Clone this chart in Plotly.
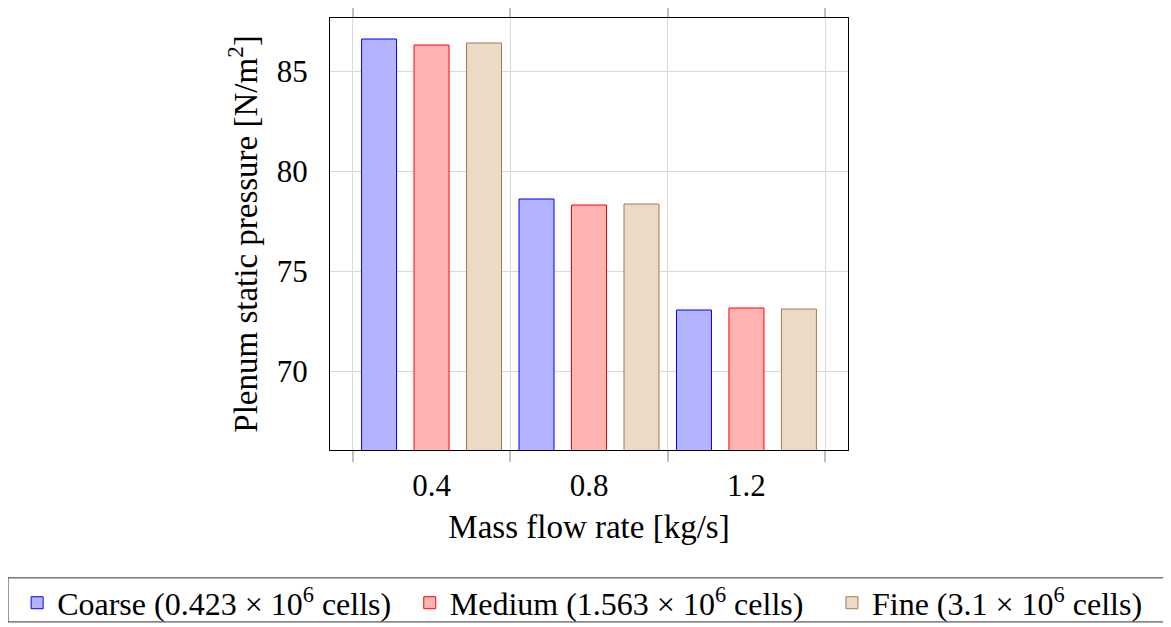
import plotly.graph_objects as go

mass_flow = [0.4, 0.8, 1.2]
coarse = [86.6, 78.6, 73.05]
medium = [86.3, 78.3, 73.15]
fine = [86.4, 78.35, 73.1]
series_names = [
    "Coarse (0.423 × 10<sup>6</sup> cells)",
    "Medium (1.563 × 10<sup>6</sup> cells)",
    "Fine (3.1 × 10<sup>6</sup> cells)",
]
x_tick_labels = ["0.4", "0.8", "1.2"]
y_ticks = [70, 75, 80, 85]
x_minor = [0.2, 0.6, 1.0, 1.4]

fills = ["#b3b3ff", "#ffb3b3", "#ecd9c6"]
edges = ["#0000ff", "#ff0000", "#a87a50"]
legend_ids = ["legend", "legend2", "legend3"]
legend_x = [-0.604, 0.154, 0.969]

FONT = "Liberation Serif"
TICK_FS = 31
TITLE_FS = 33
LEG_FS = 32

fig = go.Figure()
for name, vals, fc, ec, lg in zip(series_names, [coarse, medium, fine], fills, edges, legend_ids):
    fig.add_trace(go.Bar(
        x=mass_flow, y=vals, name=name, legend=lg,
        marker=dict(color=fc, line=dict(color=ec, width=1)),
    ))

legend_common = dict(
    orientation="h", xanchor="left", y=-0.354, yanchor="middle",
    borderwidth=0, bgcolor="rgba(0,0,0,0)", font=dict(size=LEG_FS, family=FONT),
)
# body margin of 8px in the page: figure is 8px smaller, plot area kept at same screen spot
fig.update_layout(
    width=1163, height=619,
    barmode="group", bargap=0.0, bargroupgap=1/3,
    plot_bgcolor="white", paper_bgcolor="white",
    margin=dict(l=322, r=323, t=10, b=177, autoexpand=False),
    font=dict(family=FONT, size=TICK_FS, color="black"),
    showlegend=True,
    legend=dict(x=legend_x[0], **legend_common),
    legend2=dict(x=legend_x[1], **legend_common),
    legend3=dict(x=legend_x[2], **legend_common),
    shapes=[dict(type="rect", xref="paper", yref="paper",
                 x0=-0.6216, x1=1.6197, y0=-0.398, y1=-0.296,
                 line=dict(color="#333333", width=1), fillcolor="rgba(0,0,0,0)")],
)
fig.update_xaxes(
    range=[0.142, 1.458], automargin=False,
    tickvals=mass_flow, ticktext=x_tick_labels, ticks="", showgrid=False,
    ticklabelstandoff=8, tickfont=dict(size=TICK_FS),
    showline=True, linecolor="black", linewidth=1, mirror="ticks",
    minor=dict(tickvals=x_minor, ticks="outside", ticklen=11, tickcolor="#bfbfbf",
               tickwidth=1.5, showgrid=True, gridcolor="#d9d9d9", gridwidth=1),
    title=dict(text="Mass flow rate [kg/s]", standoff=12, font=dict(size=TITLE_FS)),
    zeroline=False,
)
fig.update_yaxes(
    range=[66.05, 87.65], automargin=False,
    tickvals=y_ticks, ticks="", showgrid=True, gridcolor="#d9d9d9", gridwidth=1,
    ticklabelstandoff=15, tickfont=dict(size=TICK_FS),
    showline=True, linecolor="black", linewidth=1, mirror=True,
    title=dict(text="Plenum static pressure [N/m<sup>2</sup>]", standoff=9,
               font=dict(size=TITLE_FS)),
    zeroline=False,
)

fig.write_html("out.html")
